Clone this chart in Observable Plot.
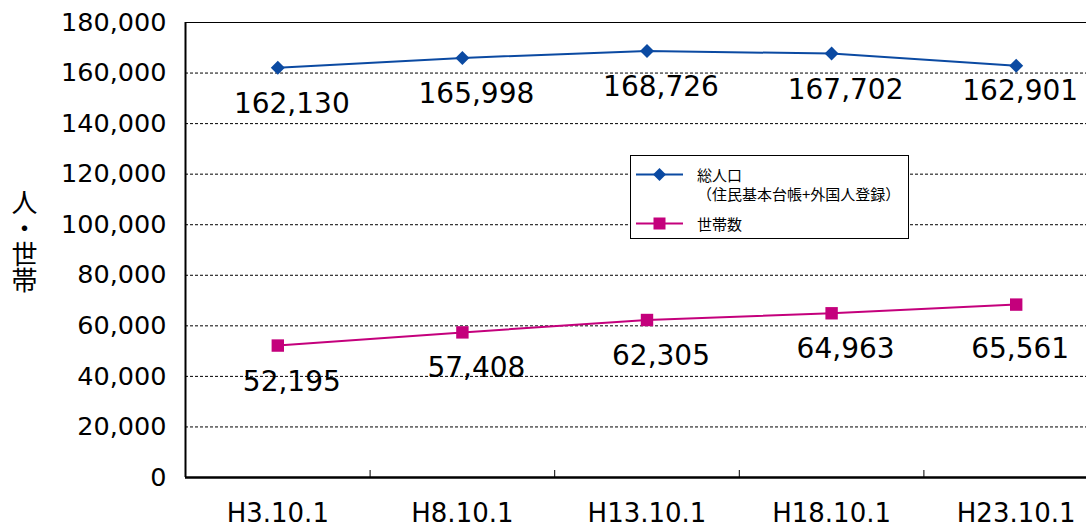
<!DOCTYPE html>
<html><head><meta charset="utf-8">
<script src="https://cdn.jsdelivr.net/npm/d3@7"></script>
<script src="https://cdn.jsdelivr.net/npm/@observablehq/plot@0.6"></script>
<style>
body{margin:0;overflow:hidden;background:#fff;}
#wrap{position:relative;width:1086px;height:524px;overflow:hidden;}
#chart{position:absolute;left:0;top:0;}
#chart svg{max-width:none !important;}
#ytitle{position:absolute;left:11px;top:189px;writing-mode:vertical-rl;font-size:26px;font-family:"Noto Sans CJK JP",sans-serif;color:#000;line-height:1;}
#legend{position:absolute;left:630px;top:155px;width:277px;height:82px;border:1.5px solid #000;background:#fff;font-family:"Noto Sans CJK JP",sans-serif;font-size:15px;color:#000;}
#legend .row{position:absolute;left:5px;display:flex;align-items:flex-start;}
#legend .txt{margin-left:14px;line-height:19px;white-space:nowrap;}
</style></head>
<body><div id="wrap"><div id="chart"></div><div id="ytitle">人・世帯</div><div id="legend"></div></div>
<script>
const categories = ["H3.10.1","H8.10.1","H13.10.1","H18.10.1","H23.10.1"];
const population = [162130,165998,168726,167702,162901];
const households = [52195,57408,62305,64963,68400];
const populationLabels = ["162,130","165,998","168,726","167,702","162,901"];
const householdLabels = ["52,195","57,408","62,305","64,963","65,561"];
const seriesNames = [["総人口","（住民基本台帳+外国人登録）"],["世帯数"]];
const seriesColors = ["#0B4AA2","#C4007C"];
const yTicks = d3.range(0, 180001, 20000);

const toNum = s => +s.replace(/,/g, "");
const popData = categories.map((c,i)=>({i:i+0.5, v:population[i], label:populationLabels[i], lv:toNum(populationLabels[i])}));
const hhData = categories.map((c,i)=>({i:i+0.5, v:households[i], label:householdLabels[i], lv:toNum(householdLabels[i])}));
const last = categories.length - 1;

const font = '"DejaVu Sans", sans-serif';
const chart = Plot.plot({
  width:1108, height:524,
  marginLeft:185, marginRight:0, marginTop:22, marginBottom:47,
  style:{fontFamily:font, fontSize:"25px", color:"#000", background:"transparent", overflow:"visible", maxWidth:"none"},
  x:{domain:[0,5]},
  y:{domain:[0,180000]},
  marks:[
    Plot.gridY(yTicks.filter(d=>d>0 && d<180000), {stroke:"#000", strokeOpacity:1, strokeDasharray:"3,2", strokeWidth:1}),
    Plot.axisY(yTicks, {tickSize:0, tickPadding:19, tickFormat:d3.format(","), fontSize:25.5, label:null}),
    Plot.axisX(categories.map((c,i)=>i+0.5), {tickSize:0, tickPadding:26, tickFormat:d=>categories[Math.round(d-0.5)], fontSize:26, label:null}),
    Plot.axisX([1,2,3,4], {tickSize:-7, tickFormat:()=>"", label:null, stroke:"#000", strokeWidth:1}),
    Plot.ruleY([180000], {stroke:"#000", strokeWidth:1}),
    Plot.ruleY([0], {stroke:"#000", strokeWidth:2.5}),
    Plot.ruleX([0], {stroke:"#000", strokeWidth:2}),
    Plot.line(popData, {x:"i", y:"v", stroke:seriesColors[0], strokeWidth:2}),
    Plot.dot(popData, {x:"i", y:"v", symbol:"diamond2", fill:seriesColors[0], stroke:"none", r:6.3}),
    Plot.text(popData.slice(0, last), {x:"i", y:"lv", text:"label", dx:14, dy:36, fontSize:28, fill:"#000"}),
    Plot.text(popData.slice(last), {x:"i", y:"lv", text:"label", dx:4, dy:25, fontSize:28, fill:"#000"}),
    Plot.line(hhData, {x:"i", y:"v", stroke:seriesColors[1], strokeWidth:2}),
    Plot.dot(hhData, {x:"i", y:"v", symbol:"square", fill:seriesColors[1], stroke:"none", r:7}),
    Plot.text(hhData.slice(0, last), {x:"i", y:"lv", text:"label", dx:14, dy:36, fontSize:28, fill:"#000"}),
    Plot.text(hhData.slice(last), {x:"i", y:"lv", text:"label", dx:4, dy:37, fontSize:28, fill:"#000"})
  ]
});
document.getElementById("chart").appendChild(chart);

// legend
const legend = document.getElementById("legend");
const tops = [9, 58];
seriesNames.forEach((lines, k) => {
  const row = document.createElement("div");
  row.className = "row";
  row.style.top = tops[k] + "px";
  const sym = k === 0
    ? `<polygon points="23.5,3 30,9.5 23.5,16 17,9.5" fill="${seriesColors[k]}"/>`
    : `<rect x="17.5" y="3.5" width="12" height="12" fill="${seriesColors[k]}"/>`;
  row.innerHTML = `<svg width="47" height="19"><line x1="0" x2="47" y1="9.5" y2="9.5" stroke="${seriesColors[k]}" stroke-width="2"/>${sym}</svg><div class="txt">${lines.join("<br>")}</div>`;
  legend.appendChild(row);
});
</script>
</body></html>
